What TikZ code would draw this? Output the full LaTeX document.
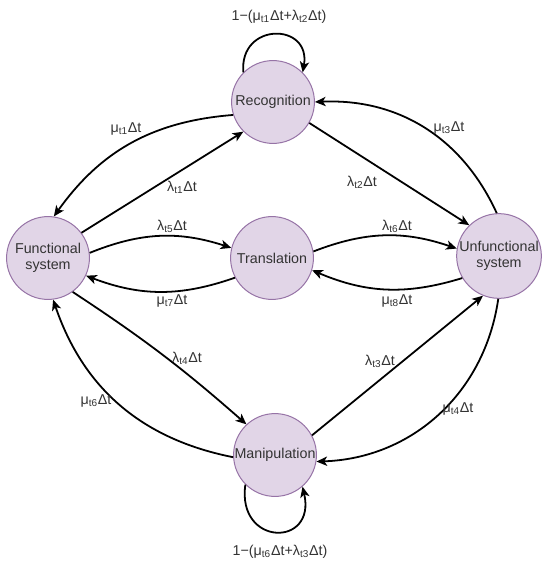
\documentclass[tikz,border=0pt]{standalone}
\usepackage{fontspec}
\setmainfont{Liberation Sans}
\usetikzlibrary{arrows.meta}
\definecolor{statefill}{HTML}{E1D5E7}
\definecolor{stateline}{HTML}{9673A6}
\tikzset{
  statenode/.style={circle, draw=stateline, fill=statefill, line width=0.7pt, minimum size=58pt, inner sep=0pt, align=center, font=\fontsize{10}{11.5}\selectfont, text=black!80},
  trans/.style={line width=1.25pt, -{Stealth[length=7.5pt,width=6.5pt,inset=2pt]}},
  rate/.style={font=\fontsize{10}{12}\selectfont, text=black!80, inner sep=1pt}
}
\newcommand{\mut}[1]{μ\textsubscript{t#1}Δt}
\newcommand{\lat}[1]{λ\textsubscript{t#1}Δt}
\begin{document}
\begin{tikzpicture}[x=0.7pt, y=-0.7pt]
	\useasboundingbox (0,0) rectangle (550,572);
	% states
	\node[statenode] (rec) at (273,102) {Recognition};
	\node[statenode] (fun) at (48,258) {Functional\\system};
	\node[statenode] (tra) at (272,258) {Translation};
	\node[statenode] (unf) at (499,256) {Unfunctional\\system};
	\node[statenode] (man) at (275,455) {Manipulation};
	% transitions
	\draw[trans] (rec.198) to[bend right=25] (fun.82);
	\draw[trans] (fun.37) -- (rec.225);
	\draw[trans] (rec.330) -- (unf.134);
	\draw[trans] (unf.93) to[bend right=34] (rec.0);
	\draw[trans] (fun.7) to[bend left=20] (tra.166);
	\draw[trans] (tra.208) to[bend left=20] (fun.335);
	\draw[trans] (tra.9) to[bend left=20] (unf.170);
	\draw[trans] (unf.211) to[bend left=20] (tra.343);
	\draw[trans] (fun.306) to[bend left=4] (man.133);
	\draw[trans] (man.183) to[bend left=30] (fun.277);
	\draw[trans] (man.28) -- (unf.248);
	\draw[trans] (unf.269) to[bend left=40] (man.351);
	\draw[trans] (rec.135) to[out=95,in=80,looseness=2.2] (rec.45);
	\draw[trans] (man.225) to[out=262,in=283,looseness=2.8] (man.311);
	% rates
	\node[rate] (r1) at (126,129) {\mut{1}};
	\node[rate] (r2) at (182,187) {\lat{1}};
	\node[rate] (r3) at (172,226) {\lat{5}};
	\node[rate] (r4) at (172,301) {\mut{7}};
	\node[rate] (r5) at (362,182) {\lat{2}};
	\node[rate] (r6) at (449,128) {\mut{3}};
	\node[rate] (r7) at (397,226) {\lat{6}};
	\node[rate] (r8) at (397,301) {\mut{8}};
	\node[rate] (r9) at (187,358) {\lat{4}};
	\node[rate] (r10) at (96,401) {\mut{6}};
	\node[rate] (r11) at (380,361) {\lat{3}};
	\node[rate] (r12) at (458,409) {\mut{4}};
	\node[rate] (top) at (279,17) {1−(\mut{1}+\lat{2})};
	\node[rate] (bot) at (280,552) {1−(\mut{6}+\lat{3})};
\end{tikzpicture}
\end{document}
